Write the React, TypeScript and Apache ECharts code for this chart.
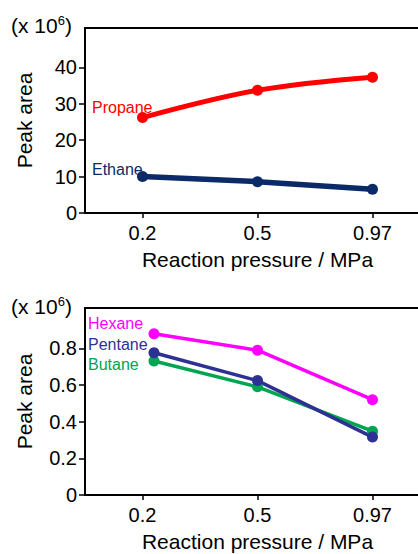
import React, { useEffect, useRef } from 'react';
import * as echarts from 'echarts';

const pressureLabels = ['0.2', '0.5', '0.97'];
const categoryIndex = [0, 1, 2];
const topX = [0, 1, 2];
const propane = [26.2, 33.7, 37.3];
const ethane = [10, 8.6, 6.5];
const bottomX = [0.1, 1, 2];
const hexane = [0.88, 0.79, 0.52];
const pentane = [0.776, 0.624, 0.316];
const butane = [0.731, 0.59, 0.348];
const topTicks = [0, 10, 20, 30, 40];
const bottomTicks = [0, 0.2, 0.4, 0.6, 0.8];

const FONT = 'Liberation Sans, Arial, sans-serif';
const GRID_LEFT = 85;
const GRID_WIDTH = 345;
const GRID_TOPS = [28, 308];
const GRID_HEIGHTS = [185, 187];

function xAxisCfg(gridIndex: number) {
  return {
    type: 'value',
    gridIndex,
    min: -0.5,
    max: 2.5,
    position: 'bottom',
    axisLine: { show: true, onZero: false, lineStyle: { color: '#000', width: 2 } },
    axisTick: { show: true, customValues: categoryIndex, length: 5, lineStyle: { color: '#000', width: 1.5 } },
    axisLabel: {
      customValues: categoryIndex,
      formatter: (v: number) => pressureLabels[Math.round(v)],
      fontSize: 20,
      color: '#000',
      margin: 10,
      fontFamily: FONT,
    },
    splitLine: { show: false },
    name: 'Reaction pressure / MPa',
    nameLocation: 'middle',
    nameGap: 36,
    nameTextStyle: { fontSize: 21, color: '#000', fontFamily: FONT },
  };
}

function yAxisCfg(gridIndex: number, max: number, ticks: number[], fmt: (v: number) => string) {
  return {
    type: 'value',
    gridIndex,
    min: 0,
    max,
    axisLine: { show: true, onZero: false, lineStyle: { color: '#000', width: 2 } },
    axisTick: { show: true, customValues: ticks, length: 6, lineStyle: { color: '#000', width: 1.5 } },
    axisLabel: {
      customValues: ticks,
      formatter: fmt,
      fontSize: 20,
      color: '#000',
      margin: 8,
      fontFamily: FONT,
    },
    splitLine: { show: false },
    name: 'Peak area',
    nameLocation: 'middle',
    nameGap: 50,
    nameTextStyle: { fontSize: 21, color: '#000', fontFamily: FONT },
  };
}

function lineSeries(name: string, xs: number[], ys: number[], color: string, width: number, idx: number, smooth: number | boolean) {
  return {
    name,
    type: 'line',
    xAxisIndex: idx,
    yAxisIndex: idx,
    data: xs.map((x, i) => [x, ys[i]]),
    smooth,
    symbol: 'circle',
    symbolSize: 11,
    showSymbol: true,
    lineStyle: { color, width },
    itemStyle: { color },
    z: 3,
  };
}

function label(text: string, x: number, y: number, color: string) {
  return {
    type: 'text',
    x,
    y,
    style: { text, fill: color, fontSize: 16, fontFamily: FONT, verticalAlign: 'middle', align: 'left' },
  };
}

function frameTop(y: number) {
  return {
    type: 'line',
    shape: { x1: GRID_LEFT - 1, y1: y, x2: GRID_LEFT + GRID_WIDTH, y2: y },
    style: { stroke: '#000', lineWidth: 2 },
    z: 101,
  };
}

function rightMask(top: number, height: number) {
  return {
    type: 'rect',
    shape: { x: 405, y: top + 2, width: 20, height: height - 4 },
    style: { fill: '#fff' },
    z: 100,
  };
}

function scaleText(y: number) {
  return {
    type: 'text',
    x: 11,
    y,
    style: {
      text: '(x 10{sup|6})',
      fill: '#000',
      fontSize: 21,
      fontFamily: FONT,
      verticalAlign: 'middle',
      rich: { sup: { fontSize: 13, fontFamily: FONT, fill: '#000', padding: [0, 0, 9, 0] } },
    },
  };
}

export default function App() {
  const ref = useRef<HTMLDivElement>(null);
  useEffect(() => {
    if (!ref.current) return;
    const chart = echarts.init(ref.current, null, { renderer: 'svg' });
    const gridBase = {
      left: GRID_LEFT,
      width: GRID_WIDTH,
      show: false,
      containLabel: false,
      outerBoundsMode: 'none',
    };
    chart.setOption({
      animation: false,
      backgroundColor: '#fff',
      textStyle: { fontFamily: FONT },
      grid: [
        { ...gridBase, top: GRID_TOPS[0], height: GRID_HEIGHTS[0] },
        { ...gridBase, top: GRID_TOPS[1], height: GRID_HEIGHTS[1] },
      ],
      xAxis: [xAxisCfg(0), xAxisCfg(1)],
      yAxis: [
        yAxisCfg(0, 50.8, topTicks, (v: number) => String(v)),
        yAxisCfg(1, 1.02, bottomTicks, (v: number) => (v === 0 ? '0' : v.toFixed(1))),
      ],
      series: [
        lineSeries('Propane', topX, propane, '#ff0000', 5, 0, 0.35),
        lineSeries('Ethane', topX, ethane, '#0b2a68', 5.5, 0, false),
        lineSeries('Butane', bottomX, butane, '#00a551', 3.5, 1, false),
        lineSeries('Pentane', bottomX, pentane, '#2e3192', 3.5, 1, false),
        lineSeries('Hexane', bottomX, hexane, '#ff00ff', 3.5, 1, false),
      ],
      graphic: [
        rightMask(GRID_TOPS[0], GRID_HEIGHTS[0]),
        rightMask(GRID_TOPS[1], GRID_HEIGHTS[1]),
        frameTop(GRID_TOPS[0]),
        frameTop(GRID_TOPS[1]),
        scaleText(25),
        scaleText(306),
        label('Propane', 92, 107, '#ff0000'),
        label('Ethane', 92, 169, '#0b2a68'),
        label('Hexane', 88, 323, '#ff00ff'),
        label('Pentane', 88, 344, '#2e3192'),
        label('Butane', 88, 364, '#00a551'),
      ],
    });
    return () => chart.dispose();
  }, []);
  return <div ref={ref} style={{ position: 'fixed', left: 0, top: 0, width: 418, height: 554 }} />;
}
